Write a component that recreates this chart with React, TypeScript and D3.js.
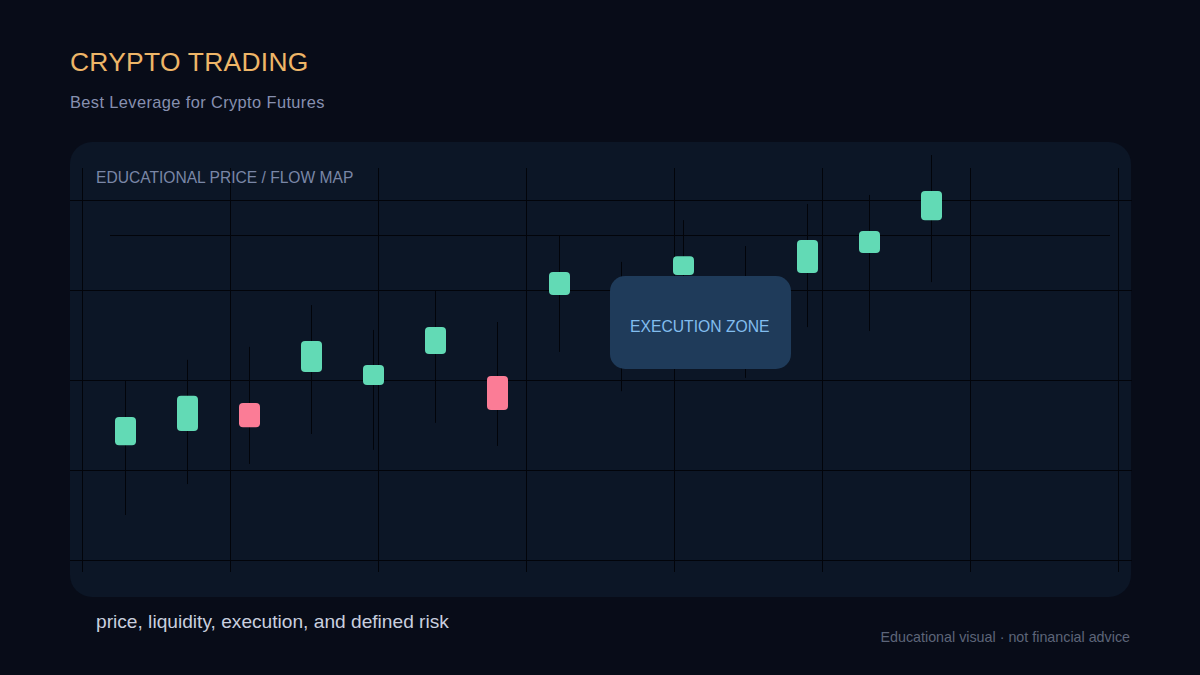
import React, { useEffect, useRef } from 'react';
import * as d3 from 'd3';

const highs = [49.7, 55.6, 59.2, 70.8, 63.9, 74.7, 66.1, 90, 82.8, 94.4, 87.2, 98.9, 101.4, 112.5];
const lows = [12.5, 21.1, 26.7, 35, 30.6, 38.1, 31.7, 57.8, 46.9, 60, 50.6, 64.7, 63.6, 77.2];
const opens = [31.9, 35.8, 43.6, 52.2, 48.6, 57.2, 51.1, 73.6, 65.3, 79.2, 69.4, 79.7, 85.3, 94.4];
const closes = [39.7, 45.6, 36.9, 60.8, 54.2, 64.7, 41.7, 80, 72.8, 84.4, 77.2, 88.9, 91.4, 102.5];
const levels = [0, 25, 50, 75, 100];
const columns = [0, 1, 2, 3, 4, 5, 6, 7];
const refLevel = 90.3;

const FONT = '"Liberation Sans", Arial, sans-serif';

const App: React.FC = () => {
  const ref = useRef<SVGSVGElement>(null);

  useEffect(() => {
    const svg = d3.select(ref.current);
    svg.selectAll('*').remove();

    const y = d3.scaleLinear().domain([0, 100]).range([560, 200]);
    const gridX = d3.scaleLinear().domain([0, 7]).range([82, 1118]);
    const x = d3.scaleLinear().domain([0, 13]).range([125, 931]);

    svg.append('rect').attr('width', 1200).attr('height', 675).attr('fill', '#080c18');

    svg.append('rect')
      .attr('x', 70).attr('y', 142)
      .attr('width', 1061).attr('height', 455)
      .attr('rx', 22)
      .attr('fill', '#0c1626');

    svg.selectAll('.vgrid').data(columns).enter().append('line')
      .attr('x1', (d) => Math.round(gridX(d)) + 0.5)
      .attr('x2', (d) => Math.round(gridX(d)) + 0.5)
      .attr('y1', 168).attr('y2', 572)
      .attr('stroke', '#02040a');

    svg.selectAll('.hgrid').data(levels).enter().append('line')
      .attr('x1', 70).attr('x2', 1132)
      .attr('y1', (d) => Math.round(y(d)) + 0.5)
      .attr('y2', (d) => Math.round(y(d)) + 0.5)
      .attr('stroke', '#02040a');

    svg.append('line')
      .attr('x1', 110).attr('x2', 1110)
      .attr('y1', Math.round(y(refLevel)) + 0.5)
      .attr('y2', Math.round(y(refLevel)) + 0.5)
      .attr('stroke', '#02040a');

    const idx = d3.range(highs.length);

    svg.selectAll('.wick').data(idx).enter().append('line')
      .attr('x1', (i) => Math.round(x(i)) + 0.5)
      .attr('x2', (i) => Math.round(x(i)) + 0.5)
      .attr('y1', (i) => y(highs[i]))
      .attr('y2', (i) => y(lows[i]))
      .attr('stroke', '#02040a');

    svg.selectAll('.body').data(idx).enter().append('rect')
      .attr('x', (i) => x(i) - 10)
      .attr('width', 21)
      .attr('y', (i) => y(Math.max(opens[i], closes[i])))
      .attr('height', (i) => Math.abs(y(opens[i]) - y(closes[i])))
      .attr('rx', 4)
      .attr('fill', (i) => (closes[i] >= opens[i] ? '#62dab5' : '#fb7c96'));

    svg.append('rect')
      .attr('x', 610).attr('y', 276)
      .attr('width', 181).attr('height', 93)
      .attr('rx', 15)
      .attr('fill', '#1f3b5a');

    const text = (s: string, tx: number, ty: number, size: number, fill: string, spacing = 0, anchor = 'start') =>
      svg.append('text')
        .attr('x', tx).attr('y', ty)
        .attr('font-family', FONT)
        .attr('font-size', size)
        .attr('letter-spacing', spacing)
        .attr('fill', fill)
        .attr('text-anchor', anchor)
        .text(s);

    text('CRYPTO TRADING', 70, 71, 26.4, '#eeb668', 0.28);
    text('Best Leverage for Crypto Futures', 70, 108, 16.4, '#8790b0', 0.39);
    text('EDUCATIONAL PRICE / FLOW MAP', 96, 183, 15.6, '#7a86a6');
    text('EXECUTION ZONE', 630, 332, 15.7, '#82bdee');
    text('price, liquidity, execution, and defined risk', 96, 628, 19.15, '#c9cfdf');
    text('Educational visual · not financial advice', 1130, 642, 14.3, '#5d6579', 0, 'end');
  }, []);

  return (
    <svg
      ref={ref}
      width={1200}
      height={675}
      style={{ position: 'fixed', left: 0, top: 0, display: 'block' }}
    />
  );
};

export default App;
